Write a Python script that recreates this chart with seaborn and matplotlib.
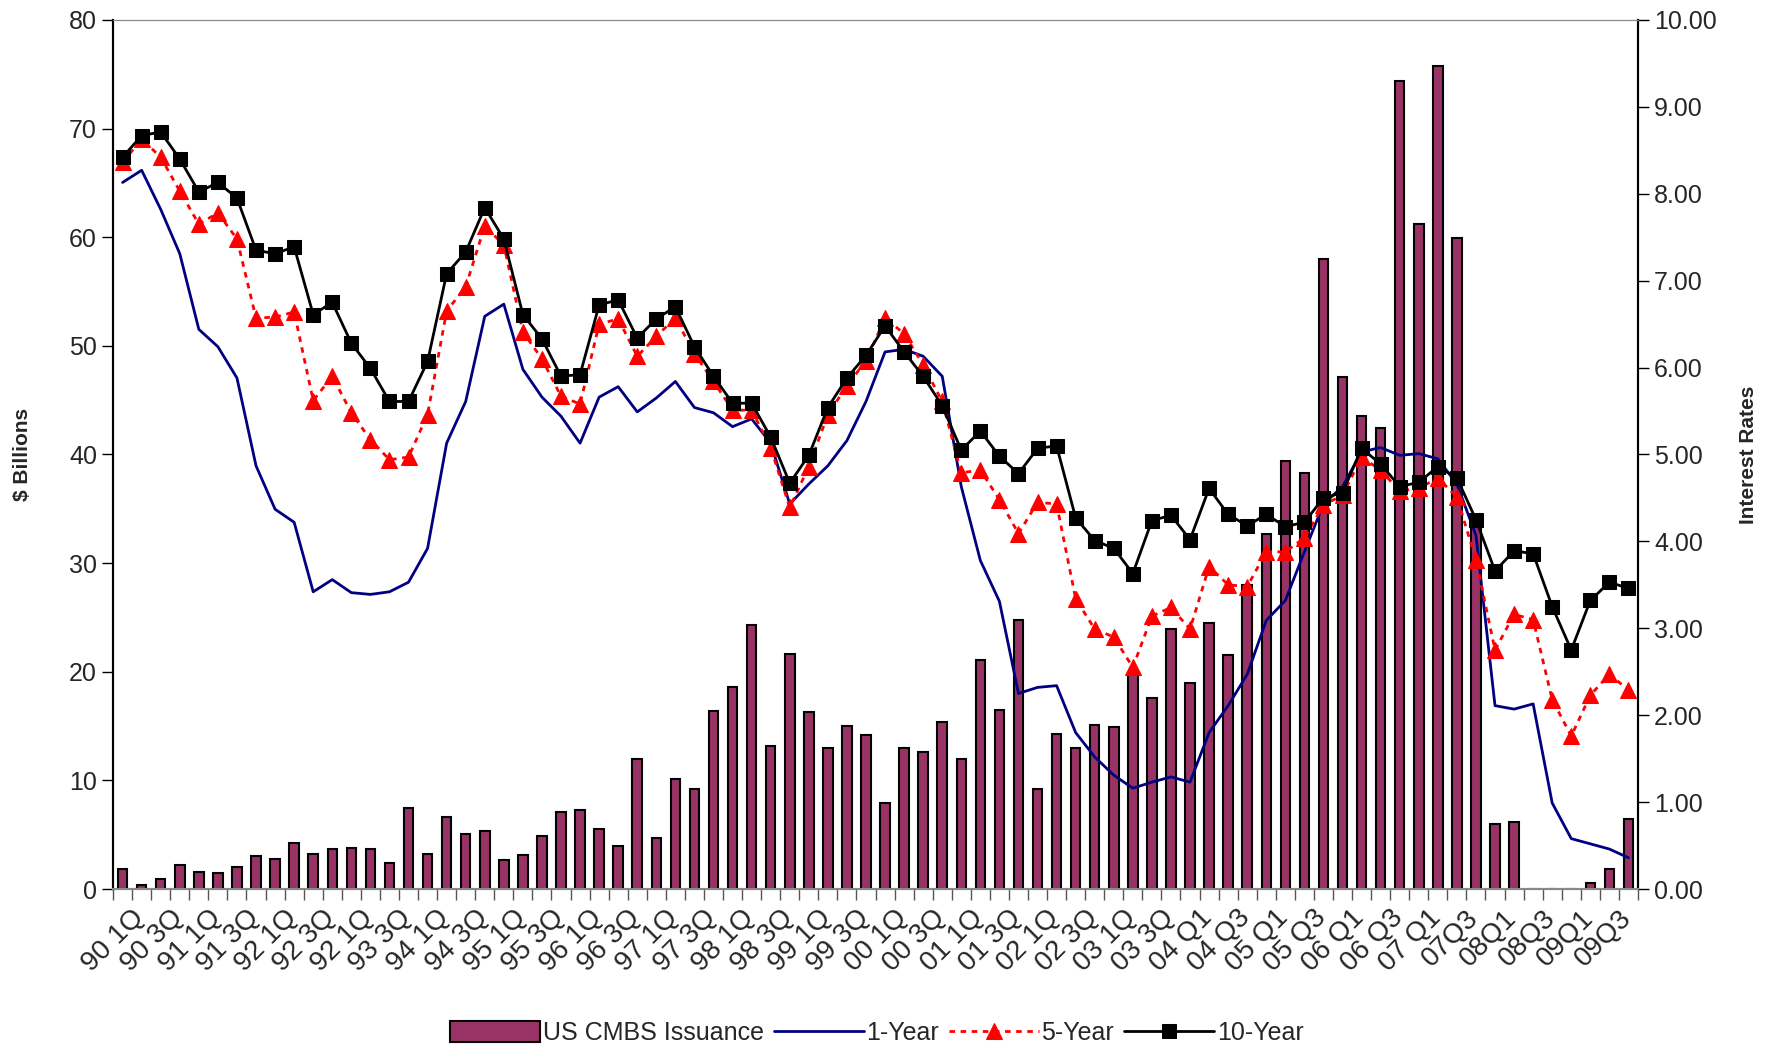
import numpy as np
import pandas as pd
import seaborn as sns
import matplotlib.pyplot as plt
from matplotlib.patches import Patch
from matplotlib.ticker import FixedLocator, FormatStrFormatter
import matplotlib.transforms as mtransforms

# Quartale 1990 - 2009
years = ['90', '91', '92', '93', '94', '95', '96', '97', '98', '99',
         '00', '01', '02', '03', '04', '05', '06', '07', '08', '09']
quarters = [y + ' ' + q for y in years for q in ['Q1', 'Q2', 'Q3', 'Q4']]

tick_labels = ['90 1Q', '90 3Q', '91 1Q', '91 3Q', '92 1Q', '92 3Q', '92 1Q', '93 3Q',
               '94 1Q', '94 3Q', '95 1Q', '95 3Q', '96 1Q', '96 3Q', '97 1Q', '97 3Q',
               '98 1Q', '98 3Q', '99 1Q', '99 3Q', '00 1Q', '00 3Q', '01 1Q', '01 3Q',
               '02 1Q', '02 3Q', '03 1Q', '03 3Q', '04 Q1', '04 Q3', '05 Q1', '05 Q3',
               '06 Q1', '06 Q3', '07 Q1', '07Q3', '08Q1', '08Q3', '09Q1', '09Q3']

# US CMBS Emissionen ($ Mrd.)
issuance = [1.8, 0.4, 0.9, 2.2, 1.6, 1.5, 2.0, 3.0, 2.8, 4.2,
            3.2, 3.7, 3.8, 3.7, 2.4, 7.5, 3.2, 6.6, 5.1, 5.3,
            2.7, 3.1, 4.9, 7.1, 7.3, 5.5, 4.0, 12.0, 4.7, 10.1,
            9.2, 16.4, 18.6, 24.3, 13.2, 21.6, 16.3, 13.0, 15.0, 14.2,
            7.9, 13.0, 12.6, 15.4, 12.0, 21.1, 16.5, 24.8, 9.2, 14.3,
            13.0, 15.1, 14.9, 19.8, 17.6, 23.9, 19.0, 24.5, 21.5, 28.0,
            32.7, 39.4, 38.3, 58.0, 47.1, 43.5, 42.4, 74.4, 61.2, 75.8,
            59.9, 33.3, 6.0, 6.2, 0.0, 0.0, 0.0, 0.6, 1.8, 6.4]

# Zinsen (%)
one_year = [8.13, 8.27, 7.82, 7.31, 6.44, 6.24, 5.88, 4.87, 4.37, 4.22,
            3.42, 3.56, 3.41, 3.39, 3.42, 3.53, 3.92, 5.13, 5.61, 6.59,
            6.73, 5.98, 5.66, 5.44, 5.13, 5.66, 5.78, 5.49, 5.65, 5.84,
            5.54, 5.48, 5.32, 5.41, 5.13, 4.43, 4.66, 4.87, 5.16, 5.61,
            6.18, 6.21, 6.13, 5.90, 4.63, 3.78, 3.31, 2.25, 2.32, 2.34,
            1.80, 1.52, 1.31, 1.16, 1.23, 1.29, 1.23, 1.80, 2.11, 2.47,
            3.09, 3.32, 3.88, 4.43, 4.63, 5.03, 5.08, 4.99, 5.01, 4.95,
            4.66, 4.07, 2.11, 2.07, 2.13, 0.99, 0.58, 0.52, 0.46, 0.36]

five_year = [8.36, 8.63, 8.42, 8.03, 7.65, 7.78, 7.48, 6.57, 6.58, 6.64,
             5.62, 5.90, 5.48, 5.17, 4.94, 4.97, 5.46, 6.65, 6.93, 7.63,
             7.41, 6.41, 6.10, 5.67, 5.58, 6.50, 6.56, 6.13, 6.36, 6.57,
             6.16, 5.84, 5.51, 5.51, 5.08, 4.39, 4.86, 5.46, 5.79, 6.08,
             6.57, 6.39, 6.03, 5.61, 4.79, 4.82, 4.48, 4.09, 4.45, 4.43,
             3.34, 2.99, 2.90, 2.55, 3.14, 3.24, 2.99, 3.71, 3.50, 3.48,
             3.88, 3.88, 4.04, 4.42, 4.53, 4.97, 4.82, 4.58, 4.61, 4.73,
             4.51, 3.79, 2.75, 3.16, 3.10, 2.18, 1.76, 2.23, 2.47, 2.29]

ten_year = [8.42, 8.67, 8.71, 8.40, 8.02, 8.13, 7.95, 7.35, 7.31, 7.39,
            6.61, 6.75, 6.28, 5.99, 5.61, 5.61, 6.07, 7.08, 7.33, 7.84,
            7.48, 6.61, 6.33, 5.90, 5.92, 6.72, 6.78, 6.34, 6.56, 6.70,
            6.24, 5.90, 5.59, 5.59, 5.20, 4.67, 4.99, 5.54, 5.88, 6.14,
            6.48, 6.18, 5.90, 5.56, 5.05, 5.27, 4.98, 4.78, 5.07, 5.10,
            4.27, 4.01, 3.92, 3.63, 4.24, 4.30, 4.02, 4.61, 4.31, 4.18,
            4.31, 4.17, 4.22, 4.50, 4.56, 5.07, 4.89, 4.63, 4.68, 4.86,
            4.73, 4.25, 3.66, 3.89, 3.86, 3.25, 2.75, 3.32, 3.53, 3.46]

df = pd.DataFrame({'Quartal': quarters, 'Issuance': issuance,
                   '1-Year': one_year, '5-Year': five_year, '10-Year': ten_year})
df['pos'] = np.arange(len(df))

sns.set_style('white')
plt.rcParams['font.family'] = ['Liberation Sans', 'DejaVu Sans']

fig = plt.figure(figsize=(17.75, 10.49), dpi=100)
ax = fig.add_axes([0.0637, 0.1525, 0.9228 - 0.0637, 0.981 - 0.1525])

# Balken: Emissionen
sns.barplot(x='Quartal', y='Issuance', data=df, color='#993366', saturation=1,
            edgecolor='black', linewidth=1.5, width=0.5, ax=ax)

# Linien: Zinsen auf zweiter Achse
ax2 = ax.twinx()
sns.lineplot(x='pos', y='1-Year', data=df, color='#000080', linewidth=2, ax=ax2)
sns.lineplot(x='pos', y='5-Year', data=df, color='#ff0000', linewidth=2,
             linestyle=(0, (2, 2)), marker='^', markersize=11,
             markeredgecolor='#ff0000', ax=ax2)
sns.lineplot(x='pos', y='10-Year', data=df, color='black', linewidth=2,
             marker='s', markersize=10, markeredgecolor='black', ax=ax2)

ax.set_xlim(-0.5, len(df) - 0.5)
ax.set_ylim(0, 80)
ax2.set_ylim(0, 10)
ax.set_yticks(np.arange(0, 81, 10))
ax2.set_yticks(np.arange(0, 11, 1))
ax2.yaxis.set_major_formatter(FormatStrFormatter('%.2f'))

# x-Achse: Beschriftung jedes zweite Quartal, Striche an den Kategoriegrenzen
ax.set_xticks(np.arange(0, len(df), 2))
ax.set_xticklabels(tick_labels, rotation=45, ha='right', va='center',
                   rotation_mode='anchor', fontsize=20)
ax.xaxis.set_minor_locator(FixedLocator(np.arange(-0.5, len(df), 1)))
ax.tick_params(axis='x', which='major', length=0, pad=18)
ax.tick_params(axis='x', which='minor', length=8, width=1, color='#555555', bottom=True)
offset = mtransforms.ScaledTranslation(18 / 100, 0, fig.dpi_scale_trans)
for lbl in ax.get_xticklabels():
    lbl.set_transform(lbl.get_transform() + offset)

ax.tick_params(axis='y', length=8, width=1, left=True, labelsize=18, color='black')
ax2.tick_params(axis='y', length=8, width=1, right=True, labelsize=18, color='black')

ax.set_xlabel('')
ax.set_ylabel(r'\$ Billions', fontsize=15, fontweight='bold', labelpad=27)
ax2.set_ylabel('Interest Rates', fontsize=15, fontweight='bold', labelpad=16)

for a in (ax, ax2):
    a.spines['left'].set_color('black')
    a.spines['left'].set_linewidth(1.5)
    a.spines['right'].set_color('black')
    a.spines['right'].set_linewidth(1.5)
    a.spines['top'].set_color('#888888')
    a.spines['bottom'].set_color('#888888')
    a.spines['bottom'].set_linewidth(1.5)

handles = [Patch(facecolor='#993366', edgecolor='black', linewidth=1.5)] + ax2.lines[:3]
labels = ['US CMBS Issuance', '1-Year', '5-Year', '10-Year']
fig.legend(handles, labels, loc='center', bbox_to_anchor=(0.494, 0.015), ncol=4,
           frameon=False, fontsize=18, handlelength=3.6, handleheight=0.9,
           handletextpad=0.1, columnspacing=0.4)

plt.savefig('out.png', dpi=100)
